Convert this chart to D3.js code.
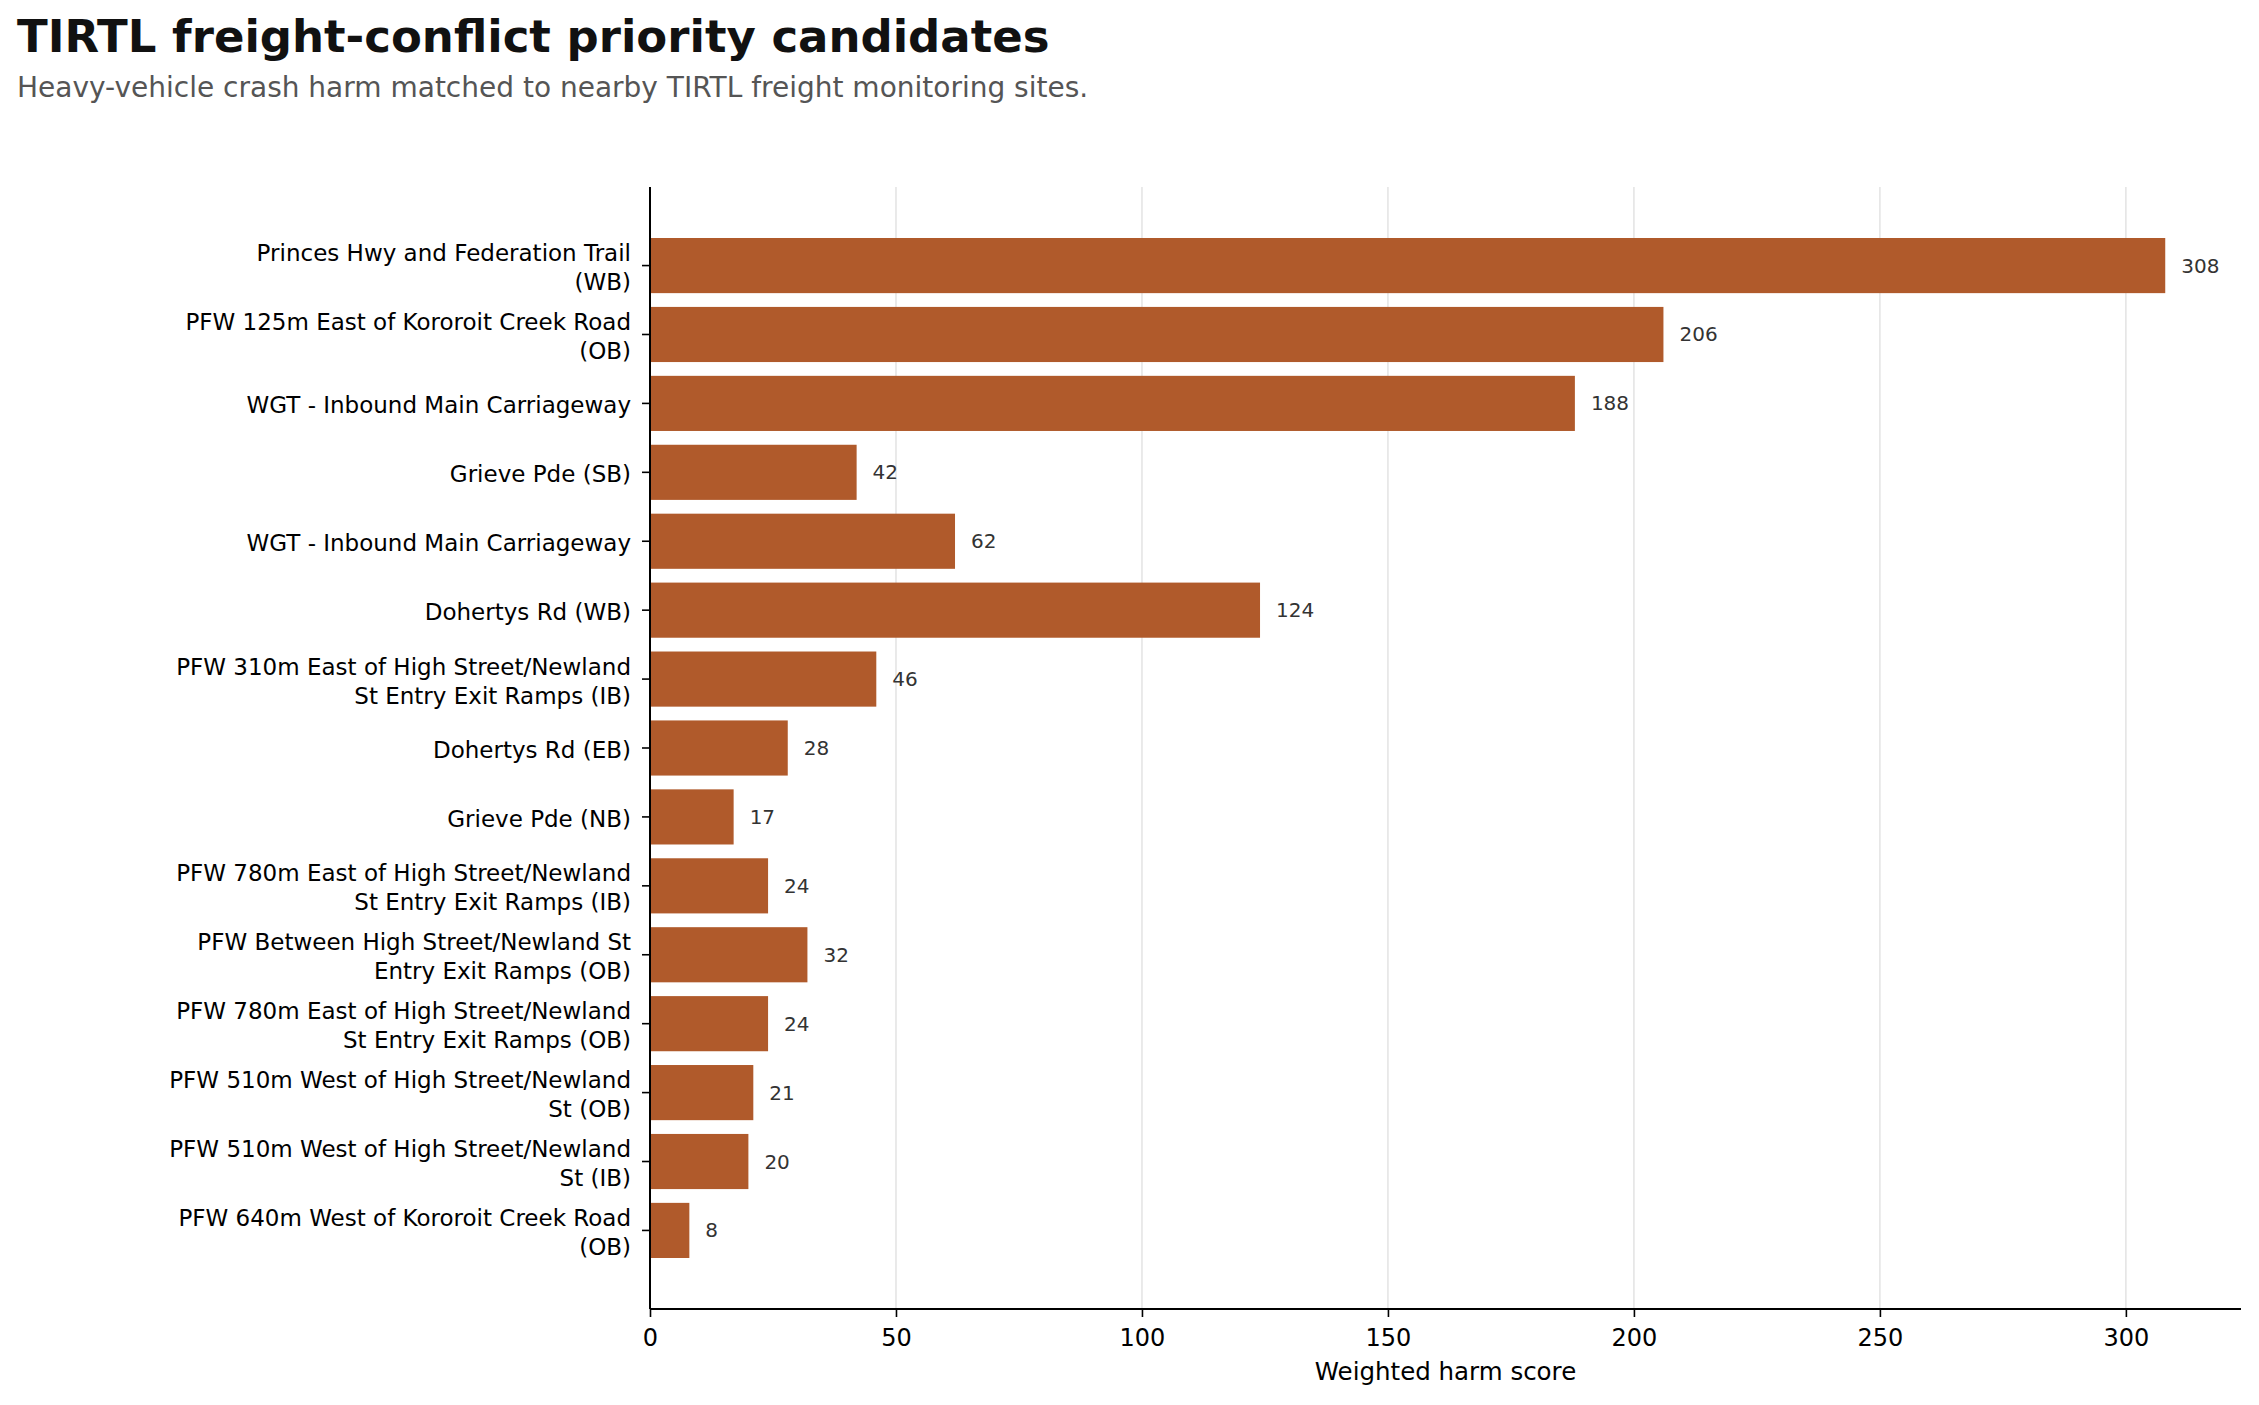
<!DOCTYPE html>
<html><head><meta charset="utf-8">
<script src="https://cdn.jsdelivr.net/npm/d3@7"></script>
<style>body{margin:0;background:#fff;} svg{display:block;font-family:"DejaVu Sans",sans-serif;}</style>
</head><body>
<script>
const categories = [
  "Princes Hwy and Federation Trail (WB)",
  "PFW 125m East of Kororoit Creek Road (OB)",
  "WGT - Inbound Main Carriageway",
  "Grieve Pde (SB)",
  "WGT - Inbound Main Carriageway",
  "Dohertys Rd (WB)",
  "PFW 310m East of High Street/Newland St Entry Exit Ramps (IB)",
  "Dohertys Rd (EB)",
  "Grieve Pde (NB)",
  "PFW 780m East of High Street/Newland St Entry Exit Ramps (IB)",
  "PFW Between High Street/Newland St Entry Exit Ramps (OB)",
  "PFW 780m East of High Street/Newland St Entry Exit Ramps (OB)",
  "PFW 510m West of High Street/Newland St (OB)",
  "PFW 510m West of High Street/Newland St (IB)",
  "PFW 640m West of Kororoit Creek Road (OB)"
];
const values = [308, 206, 188, 42, 62, 124, 46, 28, 17, 24, 32, 24, 21, 20, 8];
const xTicks = [0, 50, 100, 150, 200, 250, 300];
const titleText = "TIRTL freight-conflict priority candidates";
const subtitleText = "Heavy-vehicle crash harm matched to nearby TIRTL freight monitoring sites.";
const xLabel = "Weighted harm score";

function wrap(s, w) {
  const words = s.split(" "); const lines = []; let cur = "";
  words.forEach(wd => {
    if (!cur) cur = wd;
    else if ((cur + " " + wd).length <= w) cur += " " + wd;
    else { lines.push(cur); cur = wd; }
  });
  if (cur) lines.push(cur);
  return lines;
}

const W = 2259, H = 1405;
const L = 650, R = 2241, T = 187, B = 1309;
const svg = d3.select("body").append("svg").attr("width", W).attr("height", H);

const n = values.length;
const xMax = d3.max(values) * 1.05;
const x = d3.scaleLinear().domain([0, xMax]).range([L, R]);
const pad = (n - 0.2) * 0.05;
const y = d3.scaleLinear().domain([-0.4 - pad, n - 1 + 0.4 + pad]).range([T, B]);

// grid
svg.append("g").selectAll("line").data(xTicks).join("line")
  .attr("x1", d => x(d)).attr("x2", d => x(d)).attr("y1", T).attr("y2", B)
  .attr("stroke", "#e3e3e3").attr("stroke-width", 1.5);

// bars
const bh = y(0.8) - y(0);
svg.append("g").selectAll("rect").data(values).join("rect")
  .attr("x", x(0)).attr("y", (d, i) => y(i) - bh / 2)
  .attr("width", d => x(d) - x(0)).attr("height", bh)
  .attr("fill", "#b05a2b");

// value labels
svg.append("g").selectAll("text").data(values).join("text")
  .attr("x", d => x(d) + 16).attr("y", (d, i) => y(i)).attr("dy", "0.35em")
  .attr("font-size", 20).attr("fill", "#333").text(d => d);

// x axis
const xAxis = d3.axisBottom(x).tickValues(xTicks).tickSize(8).tickPadding(12).tickSizeOuter(0);
const gx = svg.append("g").attr("transform", `translate(0,${B})`).call(xAxis);
gx.select(".domain").attr("stroke", "#000").attr("stroke-width", 2).attr("d", `M${L},0H${R}`);
gx.selectAll(".tick line").attr("stroke", "#000").attr("stroke-width", 1.6);
gx.selectAll(".tick text").attr("font-size", 24).attr("fill", "#000").attr("font-family", "DejaVu Sans");

// y axis
const yIdx = d3.range(n);
const gy = svg.append("g").attr("transform", `translate(${L},0)`);
gy.append("line").attr("x1", 0).attr("x2", 0).attr("y1", T).attr("y2", B).attr("stroke", "#000").attr("stroke-width", 2);
const yt = gy.selectAll("g.tk").data(yIdx).join("g").attr("class", "tk").attr("transform", i => `translate(0,${y(i)})`);
yt.append("line").attr("x1", -8).attr("x2", 0).attr("stroke", "#000").attr("stroke-width", 1.6);
yt.each(function(i) {
  const lines = wrap(categories[i], 36);
  const lh = 29;
  const t = d3.select(this).append("text").attr("text-anchor", "end").attr("font-size", 23).attr("fill", "#000");
  lines.forEach((ln, k) => {
    t.append("tspan").attr("x", -19).attr("y", (k - (lines.length - 1) / 2) * lh + 2).attr("dy", "0.35em").text(ln);
  });
});

// axis label
svg.append("text").attr("x", (L + R) / 2).attr("y", 1380).attr("text-anchor", "middle")
  .attr("font-size", 24.5).attr("fill", "#000").text(xLabel);

// title
svg.append("text").attr("x", 17).attr("y", 52).attr("font-size", 45).attr("font-weight", "bold").attr("fill", "#111").text(titleText);
svg.append("text").attr("x", 17).attr("y", 97).attr("font-size", 28).attr("fill", "#555").text(subtitleText);
</script>
</body></html>
